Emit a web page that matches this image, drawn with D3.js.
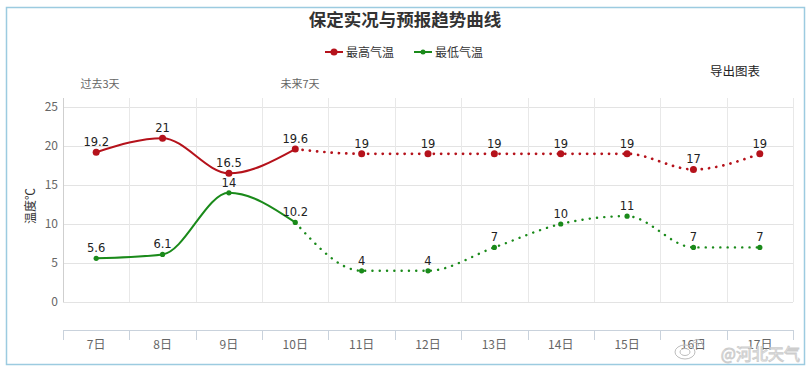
<!DOCTYPE html>
<html><head><meta charset="utf-8">
<script src="https://cdn.jsdelivr.net/npm/d3@7"></script>
<style>
html,body{margin:0;padding:0;background:#fff;}
svg{display:block;font-family:"Noto Sans CJK SC","Microsoft YaHei",sans-serif;}
</style></head>
<body>
<svg id="chart" width="809" height="369"></svg>
<script>
const categories = ["7日","8日","9日","10日","11日","12日","13日","14日","15日","16日","17日"];
const highTemps = [19.2, 21, 16.5, 19.6, 19, 19, 19, 19, 19, 17, 19];
const lowTemps = [5.6, 6.1, 14, 10.2, 4, 4, 7, 10, 11, 7, 7];
const yTicks = [0, 5, 10, 15, 20, 25];
const pastCount = 4; // 7日-10日 are observed (solid line)
const seriesNames = ["最高气温", "最低气温"];
const colors = ["#b5121b", "#1a8a1a"];

const svg = d3.select("#chart");
// outer frame
svg.append("rect").attr("x",6.5).attr("y",7.5).attr("width",798).attr("height",357)
  .attr("fill","#fff").attr("stroke","#9ccbe0").attr("stroke-width",1.5);

const left = 63, right = 793, yTop = 98;
const x = d3.scaleBand().domain(categories).range([left, right]);
const y = d3.scaleLinear().domain([0, 25]).range([302, 107]);
const xAxisY = 330;

// title
svg.append("text").attr("x",405).attr("y",26).attr("text-anchor","middle")
  .attr("font-size",17.5).attr("font-weight","bold").attr("fill","#333").text("保定实况与预报趋势曲线");

// legend
const legendX = [325, 414];
seriesNames.forEach((n,i)=>{
  const g = svg.append("g");
  g.append("line").attr("x1",legendX[i]).attr("x2",legendX[i]+18).attr("y1",52).attr("y2",52)
    .attr("stroke",colors[i]).attr("stroke-width",2);
  g.append("circle").attr("cx",legendX[i]+9).attr("cy",52).attr("r",i===0?3.5:2.5).attr("fill",colors[i]);
  g.append("text").attr("x",legendX[i]+21).attr("y",56.5).attr("font-size",12).attr("fill","#333").text(n);
});

svg.append("text").attr("x",735).attr("y",76).attr("text-anchor","middle")
  .attr("font-size",12.5).attr("fill","#222").text("导出图表");
svg.append("text").attr("x",100).attr("y",88).attr("text-anchor","middle")
  .attr("font-size",11).attr("fill","#666").text("过去3天");
svg.append("text").attr("x",300).attr("y",88).attr("text-anchor","middle")
  .attr("font-size",11).attr("fill","#666").text("未来7天");

// grid: horizontal
const grid = svg.append("g");
grid.selectAll("line.h").data(yTicks).join("line").attr("class","h")
  .attr("x1",left).attr("x2",right).attr("y1",d=>Math.round(y(d))+0.5).attr("y2",d=>Math.round(y(d))+0.5)
  .attr("stroke","#e3e3e3");
// vertical gridlines at band boundaries
const bounds = categories.map(c=>x(c)).concat([right]);
grid.selectAll("line.v").data(bounds).join("line").attr("class","v")
  .attr("x1",d=>Math.round(d)+0.5).attr("x2",d=>Math.round(d)+0.5).attr("y1",yTop).attr("y2",y(0))
  .attr("stroke",(d,i)=> i===0 ? "#cfcfcf" : "#e8e8e8");

// y axis labels
const yAxis = d3.axisLeft(y).tickValues(yTicks).tickSize(0).tickPadding(0);
const yg = svg.append("g").attr("transform",`translate(${left-5},0)`).call(yAxis);
yg.select(".domain").remove();
yg.selectAll("text").attr("font-size",12).attr("fill","#666").attr("font-family","'Noto Sans CJK SC',sans-serif");

// y title
svg.append("text").attr("transform","translate(35,206) rotate(-90)").attr("text-anchor","middle")
  .attr("font-size",12).attr("fill","#333").text("温度℃");

// x axis
const xg = svg.append("g").attr("transform",`translate(0,${xAxisY+0.5})`)
  .call(d3.axisBottom(x).tickSize(0).tickPadding(10));
xg.select(".domain").attr("stroke","#c9d2dc").attr("d",`M${left},0H${right}`);
xg.selectAll("text").attr("font-size",12).attr("fill","#666").attr("font-family","'Noto Sans CJK SC',sans-serif");
svg.append("g").selectAll("line").data(bounds).join("line")
  .attr("x1",d=>Math.round(d)+0.5).attr("x2",d=>Math.round(d)+0.5)
  .attr("y1",xAxisY).attr("y2",xAxisY+10).attr("stroke","#c9d2dc");

// series
const cx = c => x(c) + x.bandwidth()/2;
const line = d3.line().x(d=>cx(d.c)).y(d=>y(d.v)).curve(d3.curveMonotoneX);
[highTemps, lowTemps].forEach((vals,i)=>{
  const pts = vals.map((v,k)=>({c:categories[k], v}));
  const past = pts.slice(0,pastCount), future = pts.slice(pastCount-1);
  svg.append("path").attr("d",line(past)).attr("fill","none").attr("stroke",colors[i]).attr("stroke-width",2);
  svg.append("path").attr("d",line(future)).attr("fill","none").attr("stroke",colors[i])
    .attr("stroke-width",i===0?2.7:2.4).attr("stroke-linecap","round").attr("stroke-dasharray","0.1 7.2");
  svg.append("g").selectAll("circle").data(pts).join("circle")
    .attr("cx",d=>cx(d.c)).attr("cy",d=>y(d.v)).attr("r",i===0?3.5:2.6).attr("fill",colors[i]);
  svg.append("g").selectAll("text").data(pts).join("text")
    .attr("x",d=>cx(d.c)).attr("y",d=>y(d.v)-6).attr("text-anchor","middle")
    .attr("fill","#222").attr("font-family","'DejaVu Sans',sans-serif")
    .attr("font-size",11.5).text(d=>d.v);
});

// watermark
svg.append("text").attr("x",800).attr("y",360).attr("text-anchor","end")
  .attr("font-size",16).attr("fill","#ffffff").attr("stroke","#c8c8c8").attr("stroke-width",0.9)
  .attr("opacity",0.9).text("@河北天气");
const wb = svg.append("g").attr("transform","translate(685,352)").attr("fill","none").attr("stroke","#bdbdbd").attr("stroke-width",1);
wb.append("ellipse").attr("rx",10).attr("ry",7);
wb.append("ellipse").attr("rx",5).attr("ry",3.5);
wb.append("path").attr("d","M7,-8 Q12,-12 14,-6 M8,-11 Q16,-16 18,-6");
</script>
</body></html>
